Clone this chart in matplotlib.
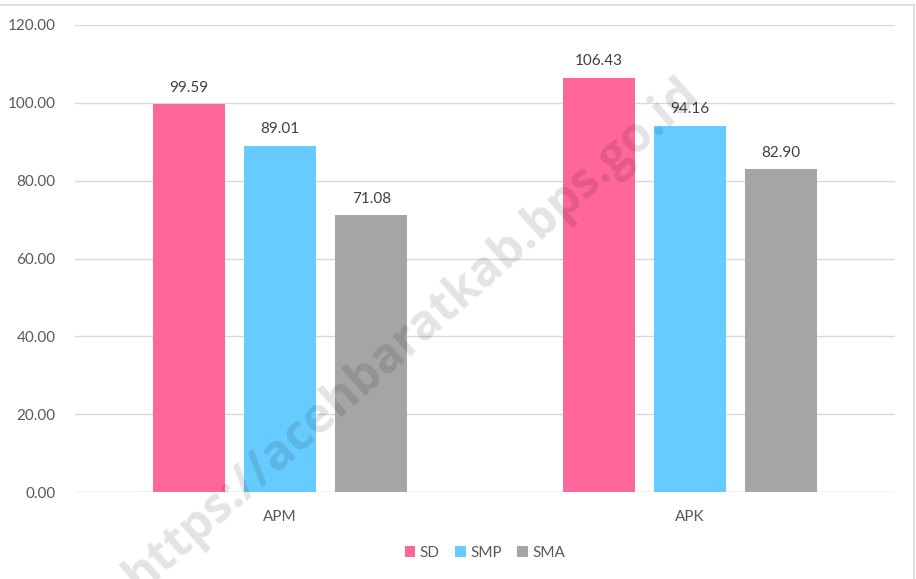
import matplotlib.pyplot as plt
import numpy as np
from matplotlib.lines import Line2D

categories = ['APM', 'APK']
series = ['SD', 'SMP', 'SMA']
sd = [99.59, 106.43]
smp = [89.01, 94.16]
sma = [71.08, 82.90]
colors = ['#FF6699', '#66CCFF', '#A5A5A5']
yticks = [0, 20, 40, 60, 80, 100, 120]

plt.rcParams['font.family'] = ['Lato', 'DejaVu Sans']

fig = plt.figure(figsize=(9.16, 5.79), dpi=100)
ax = fig.add_axes([75 / 916, 1 - 492 / 579, (895 - 75) / 916, (492 - 25) / 579])

x = np.arange(len(categories))
width = 0.176
step = 0.2225
for i, (name, vals) in enumerate(zip(series, [sd, smp, sma])):
    bars = ax.bar(x + (i - 1) * step, vals, width, color=colors[i], label=name, zorder=2)
    for b, v in zip(bars, vals):
        ax.annotate(f'{v:.2f}', (b.get_x() + b.get_width() / 2, v),
                    xytext=(0, 7), textcoords='offset points',
                    ha='center', va='bottom', fontsize=11, color='#404040')

ax.set_xlim(-0.5, 1.5)
ax.set_ylim(0, 120)
ax.set_yticks(yticks)
ax.set_yticklabels([f'{t:.2f}' for t in yticks])
ax.set_xticks(x)
ax.set_xticklabels(categories)
ax.grid(axis='y', color='#D9D9D9', linewidth=1, zorder=0)
for s in ax.spines.values():
    s.set_visible(False)
ax.tick_params(axis='both', length=0, labelsize=11, colors='#595959')
ax.tick_params(axis='x', pad=13)
ax.tick_params(axis='y', pad=14)
ax.axhline(0, color='#D9D9D9', linewidth=1, zorder=1)

ax.legend(loc='center', bbox_to_anchor=(0.5, -0.13), ncol=3, frameon=False,
          fontsize=11, handlelength=0.7, handleheight=0.7, handletextpad=0.3,
          columnspacing=1.0, labelcolor='#595959')

# chart border (top and right edges visible)
fig.add_artist(Line2D([0, 914 / 916], [1 - 4.5 / 579, 1 - 4.5 / 579],
                      transform=fig.transFigure, color='#D9D9D9', linewidth=1.2))
fig.add_artist(Line2D([914 / 916, 914 / 916], [0, 1 - 4.5 / 579],
                      transform=fig.transFigure, color='#D9D9D9', linewidth=1.2))

# watermark
fig.text(412 / 916, 1 - 335 / 579, 'https://acehbaratkab.bps.go.id', rotation=41.5,
         ha='center', va='center', fontsize=35, fontweight='bold',
         color='#000000', alpha=0.11, family=['Open Sans', 'DejaVu Sans'])

fig.savefig('out.png', dpi=100)
